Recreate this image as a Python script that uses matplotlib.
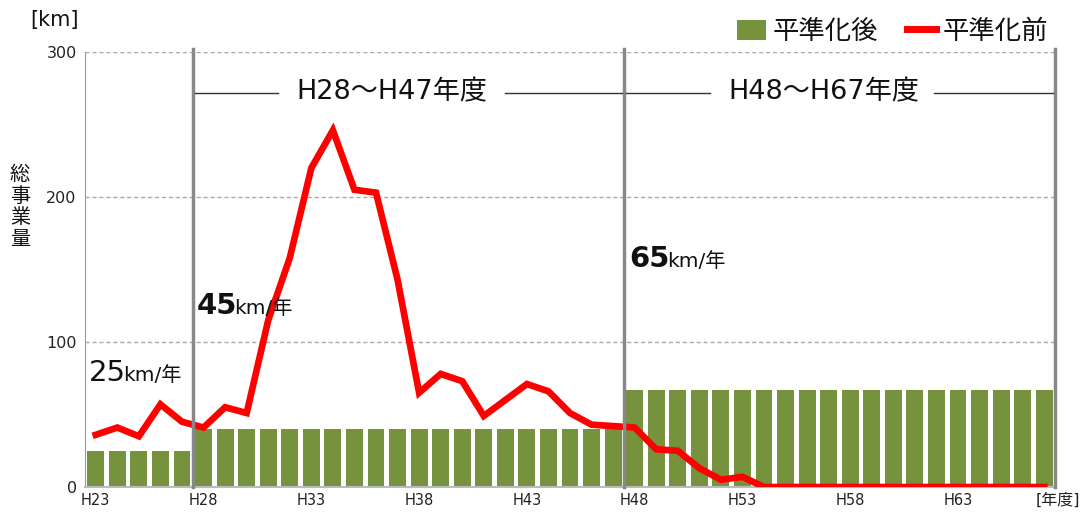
import matplotlib
matplotlib.use("Agg")
import matplotlib.pyplot as plt
from matplotlib.patches import Patch
from matplotlib.lines import Line2D
import numpy as np

plt.rcParams['font.family'] = ['DejaVu Sans', 'Noto Sans CJK JP']

years = [f"H{n}" for n in range(23, 68)]
after = [25]*5 + [40]*20 + [67]*20
before = [36, 41, 35, 57, 45, 41, 55, 51, 115, 158, 220, 246, 205, 203, 143, 65,
          78, 73, 49, 60, 71, 66, 51, 43, 42, 41, 26, 25, 13, 5, 7] + [0]*14
tick_labels = [y if (i % 5 == 0) else "" for i, y in enumerate(years)]
yticks = [0, 100, 200, 300]
period_labels = ["H28〜H47年度", "H48〜H67年度"]
rate_labels = ["25", "45", "65"]

GREEN = "#76923C"
RED = "#FF0000"

fig = plt.figure(figsize=(10.85, 5.12), dpi=100)
ax = fig.add_axes([85/1085, 25/512, 970/1085, 435/512])

x = np.arange(len(years))
ax.bar(x, after, width=0.78, color=GREEN, zorder=2)
ax.plot(x, before, color=RED, lw=4.8, zorder=3, solid_joinstyle="miter")

ax.set_xlim(-0.5, len(years) - 0.5)
ax.set_ylim(0, 300)
ax.set_yticks(yticks)
ax.set_yticklabels([str(v) for v in yticks], fontsize=11.5, color="#222222")
ax.set_xticks(x)
ax.set_xticklabels(tick_labels, fontsize=10.5, color="#222222")
ax.tick_params(axis="both", length=0, pad=4)
ax.tick_params(axis="y", pad=6)
for v in yticks[1:]:
    ax.axhline(v, color="#AAAAAA", lw=1, ls=(0, (3, 2)), zorder=1)
for s in ["top", "right"]:
    ax.spines[s].set_visible(False)
ax.spines["left"].set_color("#999999")
ax.spines["bottom"].set_color("#BBBBBB")
ax.spines["bottom"].set_linewidth(1.5)

# period separators
for b in [4.5, 24.5, 44.5]:
    ax.plot([b, b], [0, 302], color="#888888", lw=2.5, zorder=4, clip_on=False)

# period labels with lines
yv = 272
for (x0, xl, xc, xr, x1), lab in zip([(4.6, 8.45, 13.75, 19.0, 24.4),
                                      (24.6, 28.5, 33.8, 38.9, 44.4)], period_labels):
    ax.plot([x0, xl], [yv, yv], color="#333333", lw=1, zorder=4)
    ax.plot([xr, x1], [yv, yv], color="#333333", lw=1, zorder=4)
    ax.text(xc, yv, lab, ha="center", va="center", fontsize=19.5, color="#111111")

# rate labels: big number followed by small unit
fig.canvas.draw()
renderer = fig.canvas.get_renderer()
def rate(xp, yp, num, bold):
    t1 = ax.text(xp, yp, num, fontsize=21, fontweight="bold" if bold else "normal",
                 color="#111111", ha="left", va="baseline", zorder=5)
    bb = t1.get_window_extent(renderer=renderer)
    xd, _ = ax.transData.inverted().transform((bb.x1 - 3, bb.y0))
    ax.text(xd, yp, "km/年", fontsize=14.5, color="#111111", ha="left", va="baseline", zorder=5)

rate(-0.3, 73, rate_labels[0], False)
rate(4.7, 119, rate_labels[1], True)
rate(24.75, 152, rate_labels[2], True)

# legend
handles = [Patch(facecolor=GREEN, edgecolor="none"), Line2D([], [], color=RED, lw=5)]
leg = fig.legend(handles, ["平準化後", "平準化前"], loc="upper right",
                 bbox_to_anchor=(1048/1085, 1 - 19/512), ncol=2, frameon=False,
                 fontsize=19, handlelength=1.1, handleheight=0.8, handletextpad=0.25,
                 columnspacing=1.1, borderaxespad=0, borderpad=0)
for t in leg.get_texts():
    t.set_color("#111111")

fig.text(30/1085, 1 - 20/512, "[km]", fontsize=15, ha="left", va="center", color="#111111")
fig.text(20/1085, 1 - 207/512, "総\n事\n業\n量", fontsize=14.5, ha="center", va="center",
         linespacing=1.05, color="#111111", family=['Noto Sans CJK JP'])
fig.text(1080/1085, 1 - 500/512, "[年度]", fontsize=11.5, ha="right", va="center", color="#222222")

fig.savefig("out.png", dpi=100)
